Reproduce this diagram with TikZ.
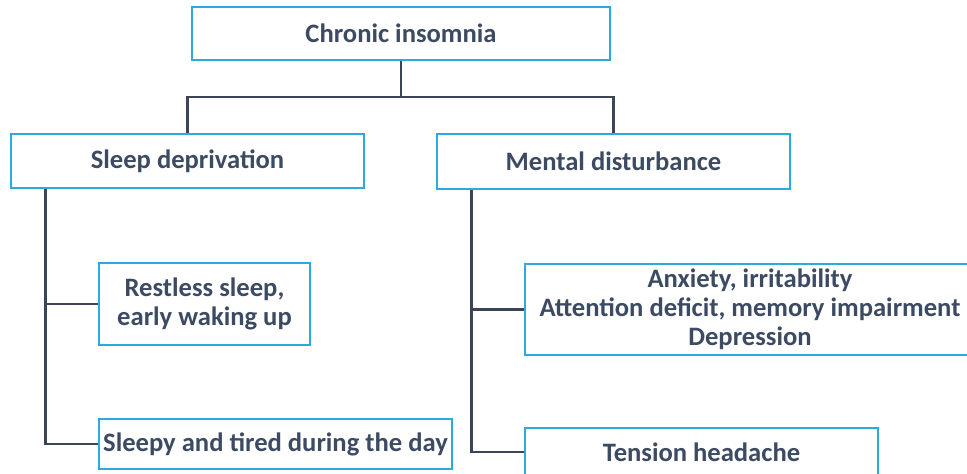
\documentclass[tikz,border=0pt]{standalone}
\usepackage{fontspec}
\setmainfont{Carlito}
\usepackage{tikz}
\usetikzlibrary{positioning,calc}
\definecolor{boxblue}{HTML}{2AAAE1}
\definecolor{slatetext}{HTML}{3C4B63}
\definecolor{slateline}{HTML}{3A4658}
\tikzset{
  cause/.style={rectangle,draw=boxblue,line width=2.6pt,fill=white,
    text=slatetext,font=\fontsize{26.6}{29}\selectfont\bfseries,
    align=center,inner sep=1pt},
  link/.style={draw=slateline,line width=2.6pt},
}

\begin{document}
\begin{tikzpicture}[x=1pt,y=-1pt]
  \clip (0,0) rectangle (967,474);
  \node[cause,minimum width=418pt,minimum height=53pt] (insomnia) at (401,33.5) {Chronic insomnia};
  \node[cause,minimum width=353pt,minimum height=54pt] (deprivation) at (187.5,161) {Sleep deprivation};
  \node[cause,minimum width=353pt,minimum height=55pt] (mental) at (613.5,161.5) {Mental disturbance};
  \node[cause,minimum width=211pt,minimum height=82pt] (restless) at (204.5,304) {Restless sleep,\\early waking up};
  \node[cause,minimum width=353pt,minimum height=50pt] (sleepy) at (275.5,444) {Sleepy and tired during the day};
  \node[cause,minimum width=450pt,minimum height=91pt] (anxiety) at (750,309.5) {Anxiety, irritability\\Attention deficit, memory impairment\\Depression};
  \node[cause,minimum width=353pt,minimum height=48pt] (tension) at (701.5,452) {Tension headache};
  % tree connectors
  \coordinate (hub) at (401,97);
  \coordinate (deptrunk) at ([xshift=36pt]deprivation.south west);
  \coordinate (mentrunk) at ([xshift=36pt]mental.south west);
  \draw[link] (insomnia.south) -- (hub);
  \draw[link] (deprivation.north) |- (hub) -| (mental.north);
  \draw[link] (deptrunk) |- (restless.west);
  \draw[link] (deptrunk) |- (sleepy.west);
  \draw[link] (mentrunk) |- (anxiety.west);
  \draw[link] (mentrunk) |- (tension.west);
\end{tikzpicture}
\end{document}
